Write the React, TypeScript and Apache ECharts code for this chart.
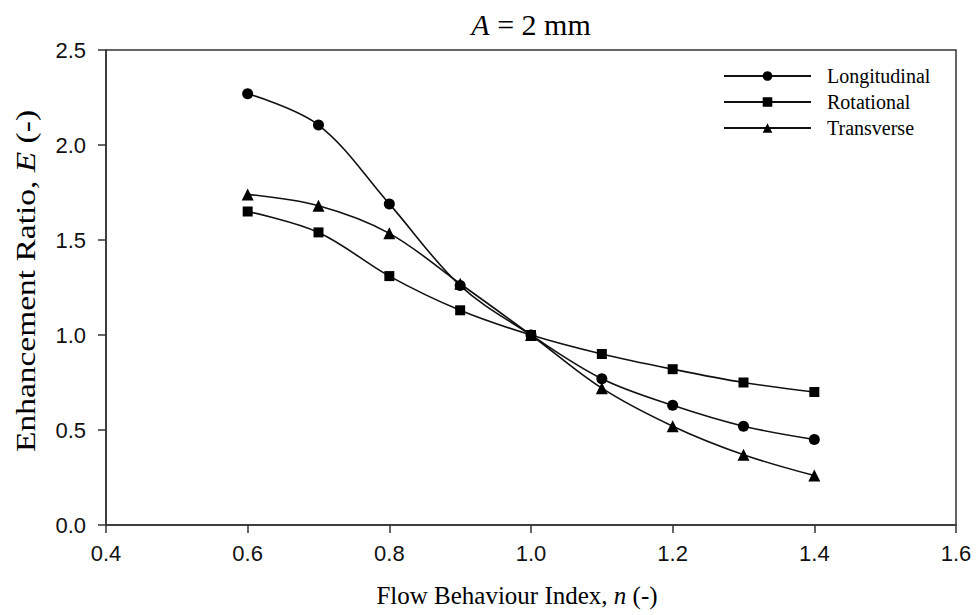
import React, { useEffect, useRef } from "react";
import * as echarts from "echarts";

const nValues = [0.6, 0.7, 0.8, 0.9, 1.0, 1.1, 1.2, 1.3, 1.4];
const longitudinal = [2.27, 2.105, 1.69, 1.26, 1.0, 0.77, 0.63, 0.52, 0.45];
const rotational = [1.65, 1.54, 1.31, 1.13, 1.0, 0.9, 0.82, 0.75, 0.7];
const transverse = [1.74, 1.68, 1.535, 1.27, 1.0, 0.72, 0.52, 0.37, 0.26];

const serif = "'Liberation Serif', 'Times New Roman', serif";
const sans = "'Liberation Sans', Arial, sans-serif";

const pairs = (ys: number[]) => nValues.map((x, i) => [x, ys[i]]);

export default function App() {
  const ref = useRef<HTMLDivElement>(null);
  useEffect(() => {
    if (!ref.current) return;
    const chart = echarts.init(ref.current, null, { renderer: "svg" });
    const lineStyle = { color: "#111", width: 1.6 };
    const mk = (name: string, data: number[], symbol: string, size: number) => ({
      name,
      type: "line",
      data: pairs(data),
      smooth: 0.35,
      symbol,
      symbolSize: size,
      itemStyle: { color: "#000" },
      lineStyle,
    });
    chart.setOption({
      animation: false,
      backgroundColor: "#fff",
      title: {
        text: "{i|A} = 2 mm",
        left: 526,
        textAlign: "center",
        top: 4,
        textStyle: {
          fontFamily: serif,
          fontSize: 30,
          fontWeight: "normal",
          color: "#000",
          rich: {
            i: { fontFamily: serif, fontSize: 30, fontStyle: "italic", color: "#000" },
          },
        },
      },
      graphic: [
        {
          type: "text",
          x: 26,
          y: 281,
          rotation: Math.PI / 2,
          scaleX: 1.24,
          style: {
            text: "Enhancement Ratio, {i|E} (-)",
            fontFamily: serif,
            fontSize: 27,
            fill: "#000",
            align: "center",
            verticalAlign: "middle",
            rich: { i: { fontFamily: serif, fontSize: 27, fontStyle: "italic", fill: "#000" } },
          },
        },
        {
          type: "text",
          x: 517,
          y: 595,
          style: {
            text: "Flow Behaviour Index, {i|n} (-)",
            fontFamily: serif,
            fontSize: 25,
            fill: "#000",
            align: "center",
            verticalAlign: "middle",
            rich: { i: { fontFamily: serif, fontSize: 25, fontStyle: "italic", fill: "#000" } },
          },
        },
      ],
      legend: {
        orient: "vertical",
        left: 718,
        top: 61,
        itemWidth: 87,
        itemHeight: 12,
        itemGap: 6,
        textStyle: { fontFamily: serif, fontSize: 20, color: "#000", padding: [0, 0, 0, 11] },
        data: ["Longitudinal", "Rotational", "Transverse"],
      },
      grid: {
        left: 106,
        right: 22,
        top: 50,
        bottom: 90,
        show: true,
        borderColor: "#333",
        borderWidth: 1.5,
      },
      xAxis: {
        type: "value",
        min: 0.4,
        max: 1.6,
        interval: 0.2,
        axisLine: { lineStyle: { color: "#333", width: 1.5 } },
        axisTick: { inside: false, length: 8, lineStyle: { color: "#333", width: 1.5 } },
        axisLabel: {
          fontFamily: sans,
          fontSize: 22,
          color: "#111",
          margin: 17,
          formatter: (v: number) => v.toFixed(1),
        },
        splitLine: { show: false },
      },
      yAxis: {
        type: "value",
        min: 0,
        max: 2.5,
        interval: 0.5,
        axisLine: { show: true, lineStyle: { color: "#333", width: 1.5 } },
        axisTick: { show: true, inside: false, length: 8, lineStyle: { color: "#333", width: 1.5 } },
        axisLabel: {
          fontFamily: sans,
          fontSize: 22,
          color: "#111",
          margin: 20,
          formatter: (v: number) => v.toFixed(1),
        },
        splitLine: { show: false },
      },
      series: [
        mk("Longitudinal", longitudinal, "circle", 11),
        mk("Rotational", rotational, "rect", 10),
        mk("Transverse", transverse, "triangle", 12),
      ],
    });
    return () => chart.dispose();
  }, []);
  return <div ref={ref} style={{ width: 978, height: 615, position: "absolute", left: 0, top: 0 }} />;
}
